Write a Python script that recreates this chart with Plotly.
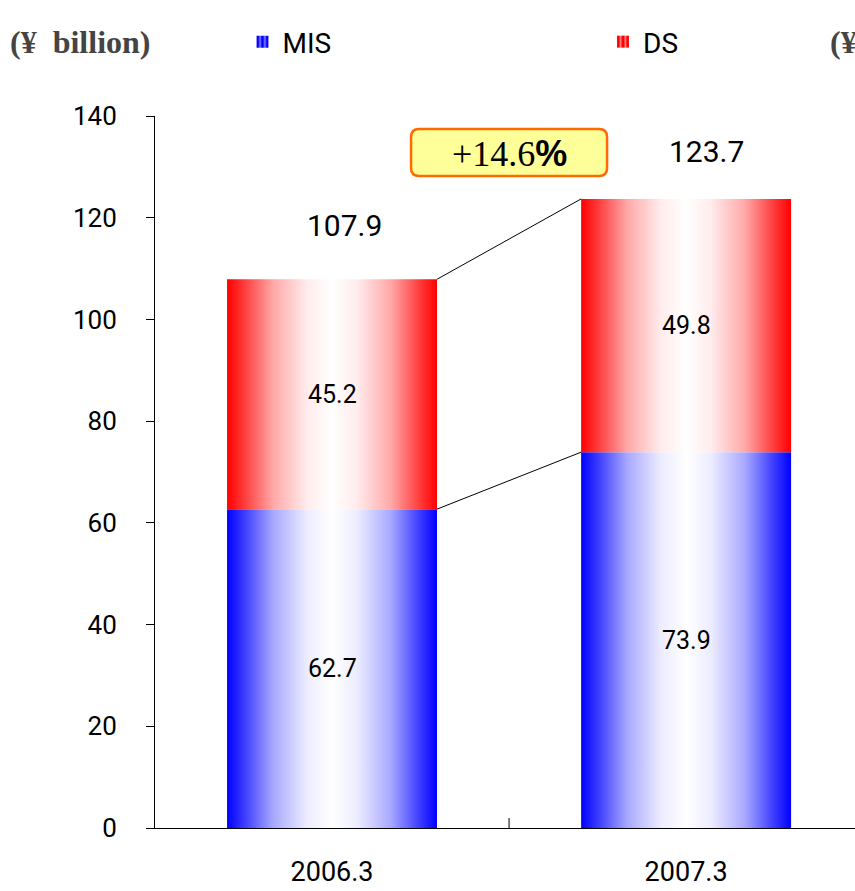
import plotly.graph_objects as go

# data
periods = ["2006.3", "2007.3"]
mis = [62.7, 73.9]
ds = [45.2, 49.8]
totals = [107.9, 123.7]

BAR_W = 0.593
BLUE_SCALE = [[0, "#0000ff"], [0.08, "#3a3aff"], [0.22, "#a8a8ff"], [0.38, "#ececff"],
              [0.5, "#ffffff"], [0.62, "#ececff"], [0.78, "#a8a8ff"], [0.92, "#3a3aff"],
              [1, "#0000ff"]]
RED_SCALE = [[0, "#ff0000"], [0.08, "#ff3a3a"], [0.22, "#ffa8a8"], [0.38, "#ffecec"],
             [0.5, "#ffffff"], [0.62, "#ffecec"], [0.78, "#ffa8a8"], [0.92, "#ff3a3a"],
             [1, "#ff0000"]]
NUM_FONT = "Roboto, Arial"
SERIF = "Liberation Serif, Times New Roman"

fig = go.Figure()


def add_segment(i, base, height, name, scale):
    x0, x1 = i - BAR_W / 2, i + BAR_W / 2
    fig.add_trace(go.Scatter(
        x=[x0, x1, x1, x0, x0], y=[base, base, base + height, base + height, base],
        mode="lines", fill="toself", line=dict(width=0),
        fillgradient=dict(type="horizontal", colorscale=scale),
        name=name, showlegend=False, hoverinfo="skip"))


for i in range(len(periods)):
    add_segment(i, 0, mis[i], "MIS", BLUE_SCALE)
for i in range(len(periods)):
    add_segment(i, mis[i], ds[i], "DS", RED_SCALE)

# legend-only entries (striped swatches)
fig.add_trace(go.Bar(x=[None], y=[None], name="MIS", legend="legend",
                     marker=dict(color="#0000ff", line=dict(width=0),
                                 pattern=dict(shape="|", fgcolor="white", size=6, solidity=0.4))))
fig.add_trace(go.Bar(x=[None], y=[None], name="DS", legend="legend2",
                     marker=dict(color="#ff0000", line=dict(width=0),
                                 pattern=dict(shape="|", fgcolor="white", size=6, solidity=0.4))))

# connector lines between the two bars
for lo, hi in [(mis[0], mis[1]), (totals[0], totals[1])]:
    fig.add_shape(type="line", x0=BAR_W / 2, x1=1 - BAR_W / 2, y0=lo, y1=hi,
                  line=dict(color="black", width=1))

# tick between categories
fig.add_shape(type="line", xref="x", yref="y", x0=0.5, x1=0.5, ysizemode="pixel",
              yanchor=0, y0=0, y1=10, line=dict(color="black", width=1))

# segment labels
for i in range(len(periods)):
    fig.add_annotation(x=i, y=mis[i] / 2, text=f"{mis[i]:.1f}", showarrow=False,
                       font=dict(size=25, color="black", family=NUM_FONT))
    fig.add_annotation(x=i, y=mis[i] + ds[i] / 2, text=f"{ds[i]:.1f}", showarrow=False,
                       font=dict(size=25, color="black", family=NUM_FONT))

total_yshift = [34, 28]
total_xshift = [12, 20]
for i in range(len(periods)):
    fig.add_annotation(x=i, y=totals[i], text=f"{totals[i]:.1f}", showarrow=False,
                       yanchor="bottom", yshift=total_yshift[i], xshift=total_xshift[i],
                       font=dict(size=30, color="black", family=NUM_FONT))

# growth box (rounded rectangle) and text
fig.add_shape(type="path", xref="x", yref="y", xsizemode="pixel", ysizemode="pixel",
              xanchor=0.5, yanchor=140,
              path="M -90,-13 L 90,-13 Q 98,-13 98,-21 L 98,-52 Q 98,-60 90,-60 "
                   "L -90,-60 Q -98,-60 -98,-52 L -98,-21 Q -98,-13 -90,-13 Z",
              fillcolor="#ffff99", line=dict(color="#ff6a00", width=2.5), layer="above")
growth = (totals[1] / totals[0] - 1) * 100
fig.add_annotation(
    x=0.5, y=140, xref="x", yref="y", yshift=-37,
    text=f"+{growth:.1f}<span style='font-family:Liberation Sans, Arial'><b>%</b></span>",
    showarrow=False, font=dict(size=36, color="black", family=SERIF))

# unit labels
for xp in [-0.21, 0.961]:
    fig.add_annotation(x=xp, y=1.104, xref="paper", yref="paper", xanchor="left",
                       yanchor="middle", text="<b>(¥&nbsp;&nbsp;billion)</b>", showarrow=False,
                       font=dict(size=32, color="#444444", family=SERIF))

fig.update_xaxes(range=[-0.5, 1.477], tickvals=[0, 1], ticktext=periods,
                 showline=True, linecolor="black", linewidth=1, ticks="",
                 showgrid=False, zeroline=False, ticklabelstandoff=20,
                 tickfont=dict(size=27, color="black", family=NUM_FONT))
fig.update_yaxes(range=[0, 140], dtick=20, showline=True, linecolor="black", linewidth=1,
                 ticks="outside", ticklen=8, tickcolor="black", showgrid=False,
                 zeroline=False, ticklabelstandoff=24,
                 tickfont=dict(size=26, color="black", family=NUM_FONT))

leg_font = dict(size=28, color="black", family=NUM_FONT)
fig.update_layout(
    width=855, height=891, margin=dict(l=155, r=0, t=116, b=63, autoexpand=False),
    paper_bgcolor="white", plot_bgcolor="white",
    legend=dict(orientation="h", x=0.125, y=1.104, xanchor="left", yanchor="middle",
                font=leg_font, itemwidth=30),
    legend2=dict(orientation="h", x=0.64, y=1.104, xanchor="left", yanchor="middle",
                 font=leg_font, itemwidth=30),
)

fig.write_html("out.html", config={"displayModeBar": False},
               post_script="document.body.style.margin='0';")
